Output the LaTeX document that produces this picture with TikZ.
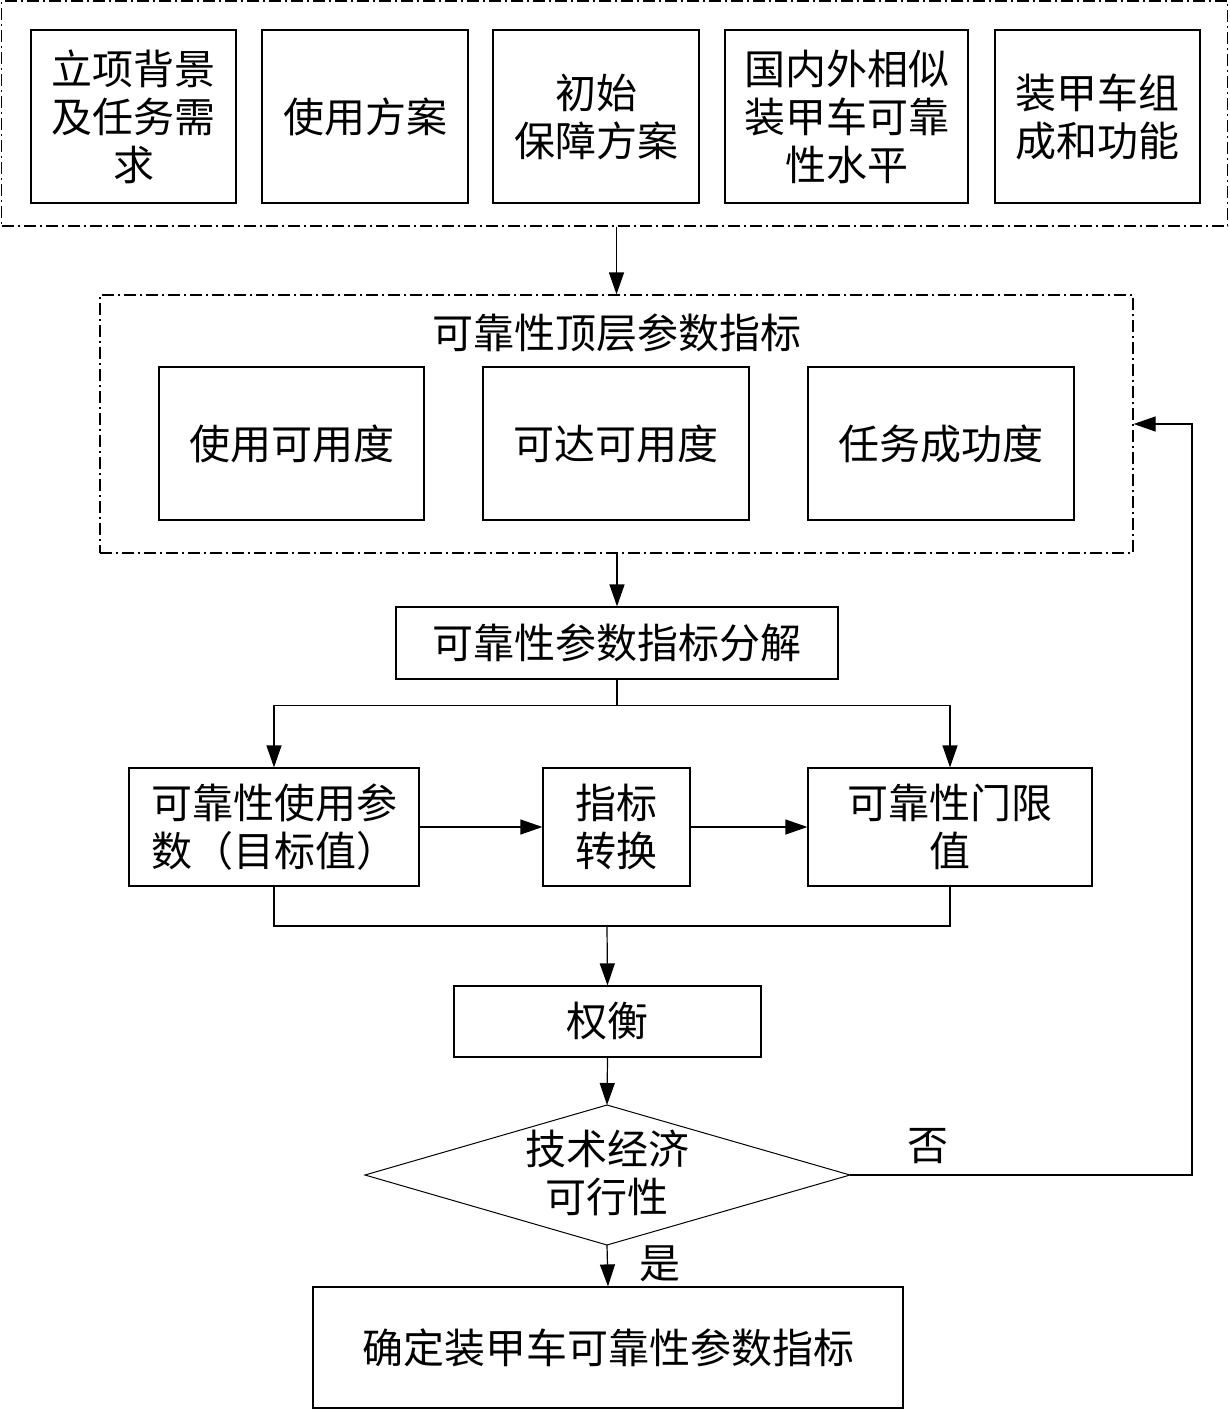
\documentclass[tikz,border=0pt]{standalone}
\usepackage{fontspec}
\newfontfamily\cjk{Noto Sans CJK SC}
\usetikzlibrary{arrows.meta,calc}
\tikzset{
  base/.style={font=\cjk\fontsize{41}{48}\selectfont, align=center, inner sep=0pt},
  box/.style={base, draw, line width=1.2pt},
  grp/.style={draw, line width=1.2pt, dash pattern=on 12pt off 4pt on 2pt off 4pt, inner sep=0pt},
  arr/.style={line width=1.2pt, -{Triangle[length=22pt,width=15pt]}},
  ln/.style={line width=1.2pt},
  lbl/.style={base}
}
\begin{document}
\begin{tikzpicture}[x=1pt,y=-1pt]
\useasboundingbox (0,0) rectangle (1230,1410);
% top group
\node[grp, minimum width=1226pt, minimum height=225pt] (topgrp) at (614.5,113.5) {};
\node[box, minimum width=205pt, minimum height=173pt] (b1) at (133.5,116.5) {立项背景\\及任务需\\求};
\node[box, minimum width=206pt, minimum height=173pt] (b2) at (365,116.5) {使用方案};
\node[box, minimum width=206pt, minimum height=173pt] (b3) at (596,116.5) {初始\\保障方案};
\node[box, minimum width=243pt, minimum height=173pt] (b4) at (846.5,116.5) {国内外相似\\装甲车可靠\\性水平};
\node[box, minimum width=205pt, minimum height=173pt] (b5) at (1097.5,116.5) {装甲车组\\成和功能};
% middle group
\node[grp, minimum width=1033pt, minimum height=258pt] (midgrp) at (616.5,424) {};
\node[lbl] (midtitle) at (617,333) {可靠性顶层参数指标};
\node[box, minimum width=265pt, minimum height=153pt] (m1) at (291.5,443.5) {使用可用度};
\node[box, minimum width=266pt, minimum height=153pt] (m2) at (616,443.5) {可达可用度};
\node[box, minimum width=266pt, minimum height=153pt] (m3) at (941,443.5) {任务成功度};
% decomposition
\node[box, minimum width=442pt, minimum height=72pt] (decomp) at (617,643) {可靠性参数指标分解};
\node[box, minimum width=290pt, minimum height=118pt] (usep) at (274,827) {可靠性使用参\\数（目标值）};
\node[box, minimum width=147pt, minimum height=118pt] (conv) at (616.5,827) {指标\\转换};
\node[box, minimum width=284pt, minimum height=118pt] (thresh) at (950,827) {可靠性门限\\值};
\node[box, minimum width=307pt, minimum height=71pt] (trade) at (607.5,1021.5) {权衡};
% diamond
\coordinate (dt) at (607,1105);
\coordinate (dl) at (365,1175);
\coordinate (dr) at (850,1175);
\coordinate (db) at (607,1245);
\draw[line width=1pt] (dt) -- (dr) -- (db) -- (dl) -- cycle;
\node[lbl] (diatext) at (607,1173) {技术经济\\可行性};
\node[lbl] (no) at (928,1146) {否};
\node[lbl] (yes) at (660,1264) {是};
\node[box, minimum width=590pt, minimum height=121pt] (final) at (608,1347.5) {确定装甲车可靠性参数指标};
% connectors
\draw[arr] (topgrp.south -| midgrp.north) -- (midgrp.north);
\draw[arr] (midgrp.south -| decomp.north) -- (decomp.north);
\coordinate (split) at ($(decomp.south)+(0,26)$);
\draw[ln] (decomp.south) -- (split);
\draw[arr] (split) -| (usep.north);
\draw[arr] (split) -| (thresh.north);
\draw[arr] (usep.east) -- (conv.west);
\draw[arr] (conv.east) -- (thresh.west);
\coordinate (merge) at (607,926);
\draw[ln] (usep.south) |- (merge);
\draw[ln] (thresh.south) |- (merge);
\draw[arr] (merge) -- (trade.north);
\draw[arr] (trade.south) -- (dt);
\draw[arr] (db) -- (final.north);
\coordinate (fb) at (1192,1175);
\draw[arr] (dr) -- (fb) |- (midgrp.east);
\end{tikzpicture}
\end{document}
